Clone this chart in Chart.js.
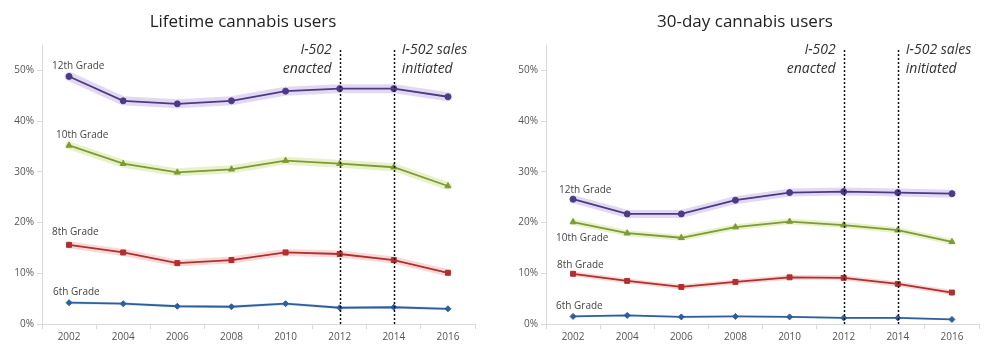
<!DOCTYPE html>
<html>
<head>
<meta charset="utf-8">
<script src="https://cdn.jsdelivr.net/npm/chart.js@4.4.1/dist/chart.umd.min.js"></script>
<style>
  body { margin: 0; background: #fff; }
  .wrap { position: absolute; top: 0; width: 500px; height: 360px; }
</style>
</head>
<body>
<div class="wrap" style="left:0"><canvas id="lifetime" width="500" height="360"></canvas></div>
<div class="wrap" style="left:500px"><canvas id="monthly" width="500" height="360"></canvas></div>
<script>
const years = ['2002', '2004', '2006', '2008', '2010', '2012', '2014', '2016'];
const yTicks = [0, 10, 20, 30, 40, 50];
const gradeNames = ['12th Grade', '10th Grade', '8th Grade', '6th Grade'];

// Lifetime use (%)
const life12 = [48.8, 44.0, 43.4, 44.0, 45.9, 46.4, 46.4, 44.8];
const life10 = [35.2, 31.6, 29.9, 30.5, 32.2, 31.6, 30.9, 27.2];
const life8  = [15.6, 14.1, 12.0, 12.6, 14.1, 13.8, 12.6, 10.1];
const life6  = [4.2, 4.0, 3.5, 3.4, 4.0, 3.2, 3.3, 3.0];

// 30-day use (%)
const month12 = [24.6, 21.7, 21.7, 24.4, 25.9, 26.1, 25.9, 25.7];
const month10 = [20.1, 17.9, 17.0, 19.1, 20.2, 19.5, 18.5, 16.2];
const month8  = [9.9, 8.5, 7.3, 8.3, 9.2, 9.1, 7.9, 6.2];
const month6  = [1.5, 1.7, 1.4, 1.5, 1.4, 1.2, 1.2, 0.9];

const eventYears = ['2012', '2014'];

const styles = [
  { line: '#4b3b85', band: 'rgba(165,135,210,0.32)', point: 'circle', r: 3 },
  { line: '#7d9b35', band: 'rgba(195,218,115,0.38)', point: 'triangle', r: 3.5 },
  { line: '#b0302e', band: 'rgba(235,135,135,0.32)', point: 'rect', r: 3.5 },
  { line: '#2f5e9e', band: 'rgba(125,165,220,0.28)', point: 'rectRot', r: 3 }
];

const FONT = '"Open Sans", "Noto Sans", sans-serif';

function makeChart(id, title, series, bandWidths, labelOffsets, padRight, yWidth, titleX) {
  const datasets = [];
  series.forEach((vals, i) => {
    const s = styles[i];
    datasets.push({
      data: vals, borderColor: s.band, borderWidth: bandWidths[i],
      pointRadius: 0, fill: false, order: 2, borderCapStyle: 'round', borderJoinStyle: 'round'
    });
    datasets.push({
      label: gradeNames[i], data: vals, borderColor: s.line, backgroundColor: s.line,
      borderWidth: 1.8, pointStyle: s.point, pointRadius: s.r, pointBorderWidth: 1,
      pointBorderColor: s.line, pointBackgroundColor: s.line, fill: false, order: 1
    });
  });

  const decor = {
    id: 'decor',
    afterDatasetsDraw(chart) {
      const ctx = chart.ctx;
      const x = chart.scales.x, y = chart.scales.y;
      const area = chart.chartArea;
      ctx.save();
      // title
      ctx.fillStyle = '#222';
      ctx.font = '17px ' + FONT;
      ctx.textAlign = 'center';
      ctx.textBaseline = 'middle';
      ctx.fillText(title, titleX, 22);

      // event lines
      const ex = eventYears.map(e => x.getPixelForValue(years.indexOf(e)));
      ctx.strokeStyle = '#111';
      ctx.lineWidth = 1.5;
      ctx.setLineDash([2, 2]);
      ex.forEach(px => {
        ctx.beginPath();
        ctx.moveTo(Math.round(px) + 0.5, 50);
        ctx.lineTo(Math.round(px) + 0.5, area.bottom);
        ctx.stroke();
      });
      ctx.setLineDash([]);
      ctx.fillStyle = '#333';
      ctx.font = 'italic 14px ' + FONT;
      ctx.textAlign = 'right';
      ctx.fillText('I-502', ex[0] - 8, 50);
      ctx.fillText('enacted', ex[0] - 8, 69);
      ctx.textAlign = 'left';
      ctx.fillText('I-502 sales', ex[1] + 8, 50);
      ctx.fillText('initiated', ex[1] + 8, 69);

      // grade labels
      ctx.font = '10px ' + FONT;
      ctx.fillStyle = '#444';
      ctx.textAlign = 'left';
      series.forEach((vals, i) => {
        const px = x.getPixelForValue(0);
        const py = y.getPixelForValue(vals[0]);
        ctx.fillText(gradeNames[i], px + labelOffsets[i][0], py + labelOffsets[i][1]);
      });
      ctx.restore();
    }
  };

  return new Chart(document.getElementById(id), {
    type: 'line',
    data: { labels: years, datasets },
    options: {
      responsive: false,
      animation: false,
      layout: { padding: { top: 45, right: padRight, left: 0, bottom: 0 } },
      elements: { line: { tension: 0 } },
      plugins: { legend: { display: false }, tooltip: { enabled: false }, title: { display: false } },
      scales: {
        x: {
          offset: true,
          grid: { display: true, drawOnChartArea: false, offset: true, tickLength: 5, color: '#d9d9d9' },
          border: { color: '#d9d9d9' },
          ticks: { color: '#555', font: { family: FONT, size: 10 }, padding: 2, maxRotation: 0 },
          afterFit(scale) { scale.height = 36; }
        },
        y: {
          min: 0, max: 55,
          afterBuildTicks(scale) { scale.ticks = yTicks.map(v => ({ value: v })); },
          grid: { display: true, drawOnChartArea: false, tickLength: 5, color: '#d9d9d9' },
          border: { color: '#d9d9d9' },
          ticks: { color: '#555', font: { family: FONT, size: 10 }, padding: 3, callback: v => v + '%' },
          afterFit(scale) { scale.width = yWidth; }
        }
      }
    },
    plugins: [decor]
  });
}

makeChart('lifetime', 'Lifetime cannabis users',
  [life12, life10, life8, life6],
  [9, 8, 7, 3],
  [[-17, -10], [-13, -10], [-17, -13], [-16, -11]],
  25, 42, 243);

makeChart('monthly', '30-day cannabis users',
  [month12, month10, month8, month6],
  [8, 6, 5, 2],
  [[-14, -9], [-17, 16], [-16, -9], [-17, -10]],
  21, 46, 245);
</script>
</body>
</html>
